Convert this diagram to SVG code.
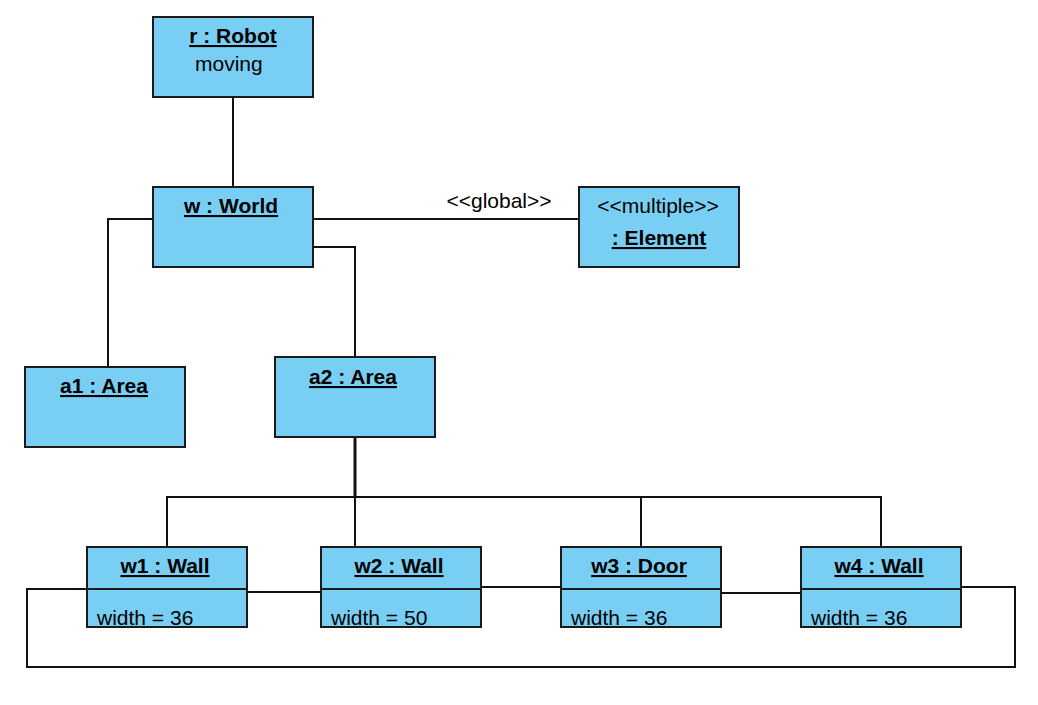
<svg xmlns="http://www.w3.org/2000/svg" width="1038" height="705" viewBox="0 0 1038 705">
<style>
.box{fill:#79CEF3;stroke:#1a1a1a;stroke-width:2}
.div{stroke:#1a1a1a;stroke-width:2}
.t{font-family:"Liberation Sans",Arial,sans-serif;font-size:21px;fill:#000}
.b{font-weight:bold;text-decoration:underline}
.c{text-anchor:middle}
.con{fill:none;stroke:#111;stroke-width:2}
</style>
<rect width="1038" height="705" fill="#fff"/>
<g id="connectors">
<polyline class="con" points="233,97 233,187"/>
<polyline class="con" points="153,219 108,219 108,367"/>
<polyline class="con" points="313,219 579,219"/>
<polyline class="con" points="313,247 355,247 355,357"/>
<polyline class="con" points="355,438 355,497 167,497 167,547"/>
<polyline class="con" points="355,438 355,547"/>
<polyline class="con" points="355,438 355,497 641,497 641,547"/>
<polyline class="con" points="355,438 355,497 881,497 881,547"/>
<line x1="355" y1="438" x2="355" y2="497" stroke="#111" stroke-width="3"/>
<polyline class="con" points="248,592 321,592"/>
<polyline class="con" points="482,587 561,587"/>
<polyline class="con" points="722,593 801,593"/>
<polyline class="con" points="961,587 1015,587 1015,667 27,667 27,589 87,589"/>
<text class="t c" x="499" y="208">&lt;&lt;global&gt;&gt;</text>
</g>
<g id="robot">
<rect class="box" x="153" y="17" width="160" height="80"/>
<text class="t b c" x="233" y="43">r : Robot</text>
<text class="t" x="195" y="71">moving</text>
</g>
<g id="world">
<rect class="box" x="153" y="187" width="160" height="80"/>
<text class="t b c" x="231" y="213">w : World</text>
</g>
<g id="element">
<rect class="box" x="579" y="187" width="160" height="80"/>
<text class="t c" x="658" y="213">&lt;&lt;multiple&gt;&gt;</text>
<text class="t b c" x="659" y="245">: Element</text>
</g>
<g id="a1">
<rect class="box" x="25" y="367" width="160" height="80"/>
<text class="t b c" x="104" y="393">a1 : Area</text>
</g>
<g id="a2">
<rect class="box" x="275" y="357" width="160" height="80"/>
<text class="t b c" x="353" y="384">a2 : Area</text>
</g>
<g id="w1">
<rect class="box" x="87" y="547" width="160" height="80"/>
<line class="div" x1="87" y1="589" x2="247" y2="589"/>
<text class="t b c" x="165" y="573">w1 : Wall</text>
<text class="t" x="97" y="625">width = 36</text>
</g>
<g id="w2">
<rect class="box" x="321" y="547" width="160" height="80"/>
<line class="div" x1="321" y1="589" x2="481" y2="589"/>
<text class="t b c" x="399" y="573">w2 : Wall</text>
<text class="t" x="331" y="625">width = 50</text>
</g>
<g id="w3">
<rect class="box" x="561" y="547" width="160" height="80"/>
<line class="div" x1="561" y1="589" x2="721" y2="589"/>
<text class="t b c" x="639" y="573">w3 : Door</text>
<text class="t" x="571" y="625">width = 36</text>
</g>
<g id="w4">
<rect class="box" x="801" y="547" width="160" height="80"/>
<line class="div" x1="801" y1="589" x2="961" y2="589"/>
<text class="t b c" x="879" y="573">w4 : Wall</text>
<text class="t" x="811" y="625">width = 36</text>
</g>
</svg>
